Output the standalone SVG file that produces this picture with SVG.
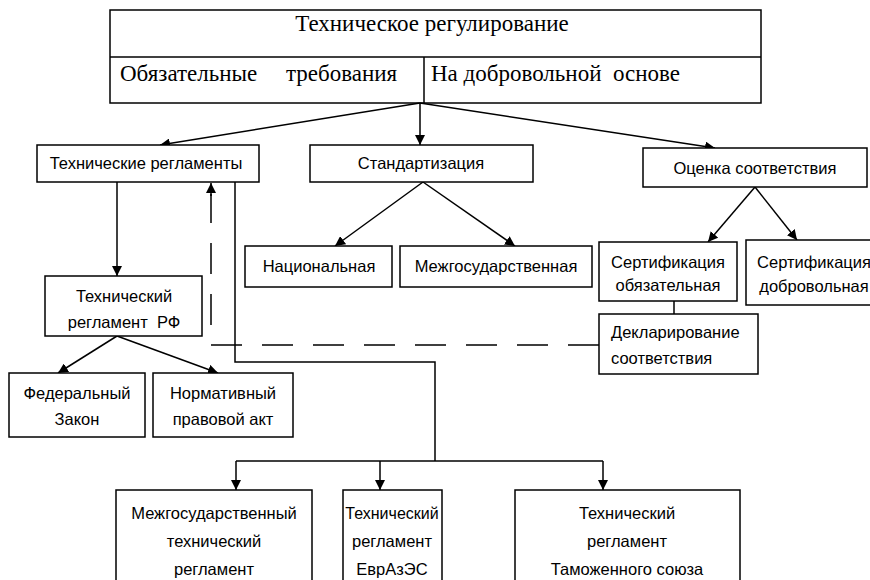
<svg xmlns="http://www.w3.org/2000/svg" width="870" height="580" viewBox="0 0 870 580">
<style>
.box{fill:#fff;stroke:#000;stroke-width:1.5}
.t{font-family:"Liberation Sans",Arial,sans-serif;font-size:16.5px;fill:#000;text-anchor:middle}
.tl{font-family:"Liberation Sans",Arial,sans-serif;font-size:16.5px;fill:#000}
.s{font-family:"Liberation Serif","Times New Roman",serif;font-size:23px;fill:#000}
.c{fill:none;stroke:#000;stroke-width:1.5}
.d{fill:none;stroke:#000;stroke-width:1.5;stroke-dasharray:31 20}
</style>
<defs>
<marker id="ah" viewBox="0 0 10 10" refX="10" refY="5" markerWidth="10" markerHeight="10" markerUnits="userSpaceOnUse" orient="auto">
<path d="M0,0 L10,5 L0,10 z" fill="#000"/>
</marker>
</defs>
<rect width="870" height="580" fill="#fff"/>
<g id="top">
<rect class="box" x="110" y="10" width="651" height="93"/>
<line class="c" x1="110" y1="57" x2="761" y2="57"/>
<line class="c" x1="424" y1="57" x2="424" y2="103"/>
<text class="s" x="432" y="31" text-anchor="middle">Техническое регулирование</text>
<text class="s" x="120" y="81" xml:space="preserve">Обязательные     требования</text>
<text class="s" x="431" y="81" xml:space="preserve">На добровольной  основе</text>
</g>
<g id="connectors">
<line class="c" x1="420" y1="103" x2="160" y2="145" marker-end="url(#ah)"/>
<line class="c" x1="420" y1="103" x2="420" y2="145" marker-end="url(#ah)"/>
<line class="c" x1="420" y1="103" x2="715" y2="148" marker-end="url(#ah)"/>
<line class="c" x1="423" y1="182" x2="335" y2="246" marker-end="url(#ah)"/>
<line class="c" x1="423" y1="182" x2="515" y2="246" marker-end="url(#ah)"/>
<line class="c" x1="755" y1="187" x2="708" y2="242" marker-end="url(#ah)"/>
<line class="c" x1="755" y1="187" x2="797" y2="240" marker-end="url(#ah)"/>
<line class="c" x1="117" y1="182" x2="117" y2="276" marker-end="url(#ah)"/>
<line class="c" x1="117" y1="336" x2="58" y2="373" marker-end="url(#ah)"/>
<line class="c" x1="117" y1="336" x2="218" y2="373" marker-end="url(#ah)"/>
<line class="c" x1="674" y1="301" x2="674" y2="314"/>
<path class="d" d="M599,345 L211,345 L211,194"/>
<line class="c" x1="211" y1="196" x2="211" y2="183" marker-end="url(#ah)"/>
<path class="c" d="M235,182 L235,362 L435,362 L435,461"/>
<line class="c" x1="236" y1="461" x2="603" y2="461"/>
<line class="c" x1="236" y1="461" x2="236" y2="490" marker-end="url(#ah)"/>
<line class="c" x1="380" y1="461" x2="380" y2="490" marker-end="url(#ah)"/>
<line class="c" x1="603" y1="461" x2="603" y2="490" marker-end="url(#ah)"/>
</g>
<g id="tech-reg">
<rect class="box" x="37" y="145" width="222" height="37"/>
<text class="t" x="146" y="169">Технические регламенты</text>
</g>
<g id="standard">
<rect class="box" x="310" y="145" width="223" height="37"/>
<text class="t" x="421" y="169">Стандартизация</text>
</g>
<g id="ocenka">
<rect class="box" x="643" y="148" width="224" height="39"/>
<text class="t" x="755" y="174">Оценка соответствия</text>
</g>
<g id="national">
<rect class="box" x="245" y="246" width="147" height="41"/>
<text class="t" x="319" y="272">Национальная</text>
</g>
<g id="mezhgos">
<rect class="box" x="400" y="246" width="192" height="41"/>
<text class="t" x="496" y="272">Межгосударственная</text>
</g>
<g id="cert-ob">
<rect class="box" x="599" y="242" width="138" height="59"/>
<text class="t" x="668" y="268">Сертификация</text>
<text class="t" x="668" y="291">обязательная</text>
</g>
<g id="cert-dob">
<rect class="box" x="746" y="240" width="130" height="65"/>
<text class="t" x="814" y="268">Сертификация</text>
<text class="t" x="814" y="292">добровольная</text>
</g>
<g id="deklar">
<rect class="box" x="599" y="314" width="159" height="60"/>
<text class="tl" x="611" y="338">Декларирование</text>
<text class="tl" x="611" y="364">соответствия</text>
</g>
<g id="tr-rf">
<rect class="box" x="45" y="276" width="157" height="60"/>
<text class="t" x="124" y="302">Технический</text>
<text class="t" x="124" y="328" xml:space="preserve">регламент  РФ</text>
</g>
<g id="fz">
<rect class="box" x="9" y="373" width="136" height="64"/>
<text class="t" x="77" y="399">Федеральный</text>
<text class="t" x="77" y="425">Закон</text>
</g>
<g id="npa">
<rect class="box" x="153" y="373" width="140" height="64"/>
<text class="t" x="223" y="399">Нормативный</text>
<text class="t" x="223" y="425">правовой акт</text>
</g>
<g id="mtr">
<rect class="box" x="116" y="490" width="196" height="95"/>
<text class="t" x="214" y="519">Межгосударственный</text>
<text class="t" x="214" y="547">технический</text>
<text class="t" x="214" y="575">регламент</text>
</g>
<g id="evrazes">
<rect class="box" x="343" y="490" width="99" height="95"/>
<text class="t" x="392" y="519" style="font-size:16px">Технический</text>
<text class="t" x="392" y="547">регламент</text>
<text class="t" x="392" y="575">ЕврАзЭС</text>
</g>
<g id="ts">
<rect class="box" x="515" y="490" width="225" height="95"/>
<text class="t" x="627" y="519">Технический</text>
<text class="t" x="627" y="547">регламент</text>
<text class="t" x="627" y="575">Таможенного союза</text>
</g>
</svg>
